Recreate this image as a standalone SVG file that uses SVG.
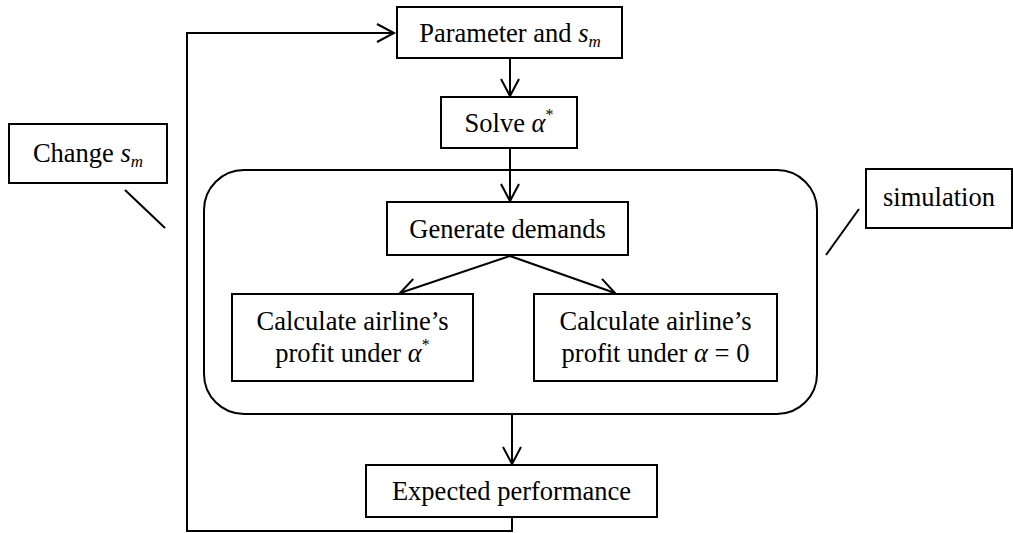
<svg xmlns="http://www.w3.org/2000/svg" width="1013" height="533" viewBox="0 0 1013 533">
  <style>
    .box { fill: #ffffff; stroke: #000000; stroke-width: 2; }
    .frame { fill: none; stroke: #000000; stroke-width: 2; }
    .wire { fill: none; stroke: #000000; stroke-width: 2; }
    .lbl { font-family: "Liberation Serif", "Times New Roman", serif; font-size: 26.5px; fill: #000000; text-anchor: middle; }
    .it { font-style: italic; }
  </style>
  <defs>
    <marker id="arrow" markerUnits="userSpaceOnUse" markerWidth="24" markerHeight="24" viewBox="-20 -12 24 24" refX="0" refY="0" orient="auto">
      <path d="M-17,-9 L0,0 L-17,9" fill="none" stroke="#000000" stroke-width="2"/>
    </marker>
  </defs>

  <rect width="1013" height="533" fill="#ffffff"/>

  <!-- simulation frame -->
  <g id="simulation-frame">
    <rect class="frame" x="204" y="170" width="613" height="244" rx="40" ry="40"/>
  </g>

  <!-- connectors -->
  <g id="connectors">
    <line class="wire" x1="510" y1="58" x2="510" y2="96" marker-end="url(#arrow)"/>
    <line class="wire" x1="510" y1="148" x2="510" y2="201" marker-end="url(#arrow)"/>
    <line class="wire" x1="510" y1="256" x2="400" y2="293" marker-end="url(#arrow)"/>
    <line class="wire" x1="510" y1="256" x2="615" y2="293" marker-end="url(#arrow)"/>
    <line class="wire" x1="512" y1="414" x2="512" y2="464" marker-end="url(#arrow)"/>
    <polyline class="wire" points="512,517 512,531 187,531 187,33 394,33" marker-end="url(#arrow)"/>
    <!-- callout leaders -->
    <line class="wire" x1="125" y1="190" x2="165" y2="228"/>
    <line class="wire" x1="859" y1="209" x2="826" y2="255"/>
  </g>

  <g id="parameter">
    <rect class="box" x="397" y="7" width="225" height="51"/>
    <text class="lbl" x="510" y="42">Parameter and <tspan class="it">s</tspan><tspan class="it" font-size="17" dy="5">m</tspan></text>
  </g>

  <g id="solve">
    <rect class="box" x="441" y="97" width="136" height="51"/>
    <text class="lbl" x="509" y="132">Solve <tspan class="it">α</tspan><tspan font-size="16" dy="-12">*</tspan></text>
  </g>

  <g id="change">
    <rect class="box" x="9" y="124" width="158" height="59"/>
    <text class="lbl" x="88" y="162">Change <tspan class="it">s</tspan><tspan class="it" font-size="17" dy="5">m</tspan></text>
  </g>

  <g id="simulation">
    <rect class="box" x="866" y="169" width="146" height="59"/>
    <text class="lbl" x="939" y="206">simulation</text>
  </g>

  <g id="generate">
    <rect class="box" x="387" y="202" width="241" height="53"/>
    <text class="lbl" x="507.5" y="238">Generate demands</text>
  </g>

  <g id="profit-optimal">
    <rect class="box" x="232" y="294" width="241" height="87"/>
    <text class="lbl" x="352.5" y="330">Calculate airline’s</text>
    <text class="lbl" x="352.5" y="362">profit under <tspan class="it">α</tspan><tspan font-size="16" dy="-12">*</tspan></text>
  </g>

  <g id="profit-zero">
    <rect class="box" x="534" y="294" width="243" height="87"/>
    <text class="lbl" x="655.5" y="330">Calculate airline’s</text>
    <text class="lbl" x="655.5" y="362">profit under <tspan class="it">α</tspan> = 0</text>
  </g>

  <g id="expected">
    <rect class="box" x="366" y="465" width="291" height="52"/>
    <text class="lbl" x="511.5" y="500">Expected performance</text>
  </g>
</svg>
